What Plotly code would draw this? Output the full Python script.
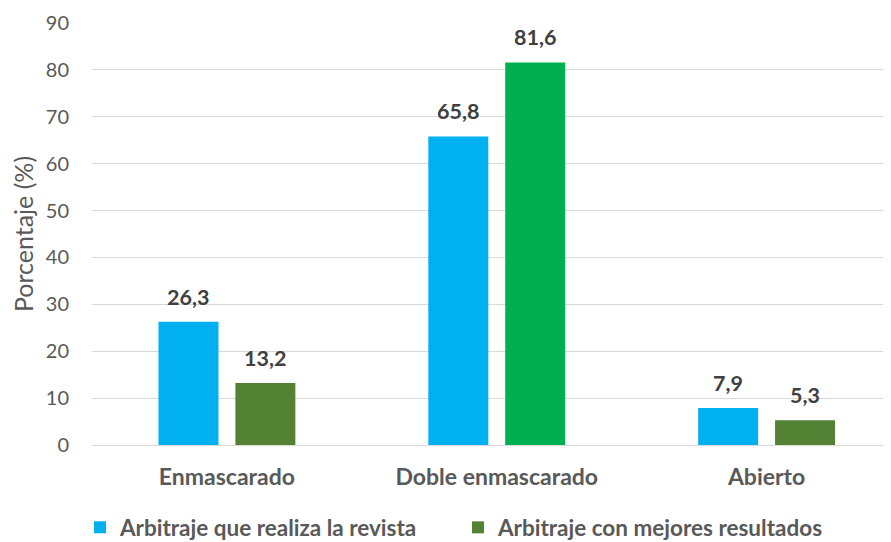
import plotly.graph_objects as go

categories = ["Enmascarado", "Doble enmascarado", "Abierto"]
series_names = ["Arbitraje que realiza la revista", "Arbitraje con mejores resultados"]
revista = [26.3, 65.8, 7.9]
mejores = [13.2, 81.6, 5.3]
y_ticks = [0, 10, 20, 30, 40, 50, 60, 70, 80, 90]

BLUE = "#00B0F0"
DGREEN = "#548235"
BGREEN = "#00B050"
GREY = "#595959"
FONT = "Lato"

fig = go.Figure()
fig.add_trace(go.Bar(x=categories, y=revista, name="<b>" + series_names[0] + "</b>",
                     marker=dict(color=BLUE, line=dict(width=0))))
fig.add_trace(go.Bar(x=categories, y=mejores, name="<b>" + series_names[1] + "</b>",
                     marker=dict(color=[DGREEN, BGREEN, DGREEN], line=dict(width=0))))

annotations = []
for vals, shift in ((revista, -38.5), (mejores, 38.5)):
    for c, v in zip(categories, vals):
        annotations.append(dict(x=c, y=v, xref="x", yref="y", xshift=shift, yshift=10,
                                text="<b>" + f"{v:.1f}".replace(".", ",") + "</b>",
                                showarrow=False, yanchor="bottom",
                                font=dict(family=FONT, size=21.5, color="#404040")))

# page body has an 8px margin, so the figure is 8px smaller and margins are shifted
fig.update_layout(
    width=883, height=534,
    margin=dict(l=83.5, r=0, t=15, b=97, autoexpand=False),
    paper_bgcolor="white", plot_bgcolor="white",
    barmode="group", bargap=0.43, bargroupgap=0.22,
    font=dict(family=FONT, color=GREY),
    annotations=annotations,
    showlegend=True,
    legend=dict(orientation="h", x=-0.015, xanchor="left", y=-0.196, yanchor="middle",
                font=dict(family=FONT, size=22.5, color=GREY), itemwidth=30,
                entrywidth=333, entrywidthmode="pixels",
                traceorder="normal"),
    xaxis=dict(range=[-0.5, 2.461], showgrid=False, showline=False, zeroline=False,
               automargin=False,
               tickfont=dict(family=FONT, size=23, color=GREY),
               ticklabelstandoff=16,
               tickvals=categories, ticktext=["<b>" + c + "</b>" for c in categories]),
    yaxis=dict(range=[0, 90], tickvals=y_ticks, showgrid=True, gridcolor="#D9D9D9",
               automargin=False,
               gridwidth=1, zeroline=True, zerolinecolor="#D9D9D9", zerolinewidth=1,
               tickfont=dict(family=FONT, size=20, color=GREY), ticklabelstandoff=22,
               title=dict(text="Porcentaje (%)", font=dict(family=FONT, size=25, color=GREY),
                          standoff=10)),
)

fig.write_html("out.html")
